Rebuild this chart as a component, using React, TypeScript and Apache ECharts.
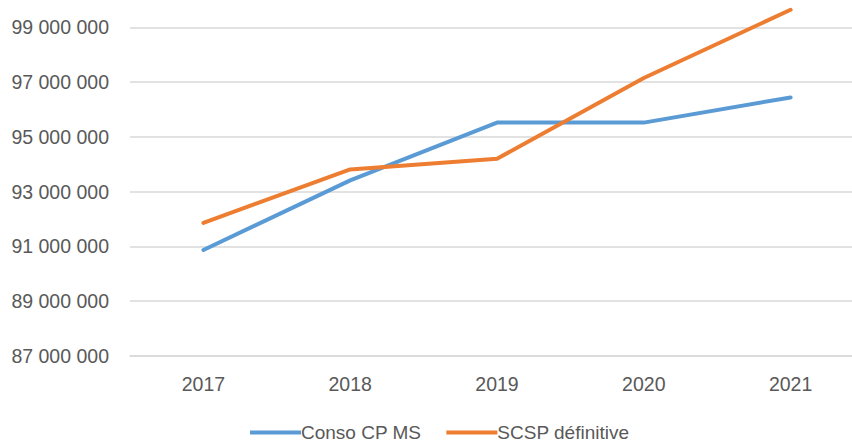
import React, { useEffect, useRef } from "react";
import * as echarts from "echarts";

const years = ["2017", "2018", "2019", "2020", "2021"];
const consoCpMs = [90870000, 93410000, 95520000, 95520000, 96440000];
const scspDefinitive = [91860000, 93810000, 94200000, 97150000, 99640000];
const seriesNames = ["Conso CP MS", "SCSP définitive"];

const OFFSET_TOP = 28;

export default function App() {
  const ref = useRef<HTMLDivElement>(null);
  useEffect(() => {
    if (!ref.current) return;
    const chart = echarts.init(ref.current, null, { renderer: "svg" });
    const font = "'Liberation Sans', Arial, sans-serif";
    chart.setOption({
      animation: false,
      grid: { left: 130, right: 0, top: 0.5, bottom: 86, containLabel: false },
      legend: {
        left: 245,
        top: 418 + OFFSET_TOP,
        itemGap: 25,
        itemWidth: 51,
        itemHeight: 4,
        icon: "rect",
        textStyle: { color: "#595959", fontSize: 19, fontFamily: font, padding: [0, 0, 0, -5] },
        data: seriesNames,
      },
      xAxis: {
        type: "category",
        data: years,
        boundaryGap: true,
        axisLine: { show: true, lineStyle: { color: "#D9D9D9", width: 1.5 } },
        axisTick: { show: false },
        axisLabel: { color: "#595959", fontSize: 19.5, fontFamily: font, margin: 18 },
      },
      yAxis: {
        type: "value",
        min: 87000000,
        max: 101000000,
        interval: 2000000,
        axisLine: { show: false },
        axisTick: { show: false },
        splitLine: { lineStyle: { color: "#D9D9D9", width: 1.5 } },
        axisLabel: {
          color: "#595959",
          fontSize: 19.5,
          fontFamily: font,
          margin: 21,
          formatter: (v: number) =>
            v > 99000000 ? "" : String(Math.round(v)).replace(/\B(?=(\d{3})+(?!\d))/g, " "),
        },
      },
      series: [
        {
          name: seriesNames[0],
          type: "line",
          data: consoCpMs,
          symbol: "none",
          lineStyle: { color: "#5B9BD5", width: 4, cap: "round", join: "round" },
          itemStyle: { color: "#5B9BD5" },
        },
        {
          name: seriesNames[1],
          type: "line",
          data: scspDefinitive,
          symbol: "none",
          lineStyle: { color: "#ED7D31", width: 4, cap: "round", join: "round" },
          itemStyle: { color: "#ED7D31" },
        },
      ],
    });
    return () => chart.dispose();
  }, []);
  return (
    <div style={{ position: "absolute", left: 0, top: 0, width: 852, height: 442, overflow: "hidden" }}>
      <div
        ref={ref}
        style={{ width: 864, height: 442 + OFFSET_TOP, position: "absolute", left: 0, top: -OFFSET_TOP }}
      />
    </div>
  );
}
